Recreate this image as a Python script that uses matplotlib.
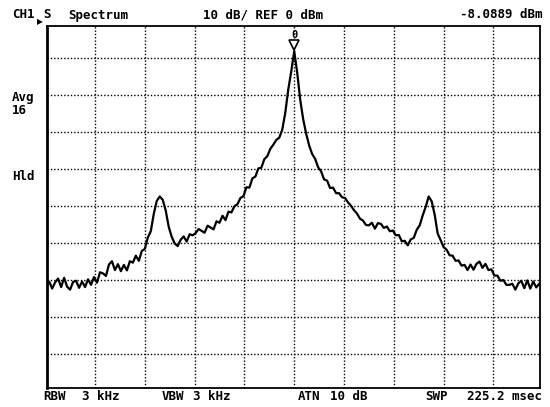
#!/usr/bin/env python3
"""Spectrum analyzer screen: averaged spectrum with a center carrier and two sidebands."""

import matplotlib

matplotlib.use("Agg")
import matplotlib.pyplot as plt
import numpy as np
from matplotlib.transforms import ScaledTranslation

# sweep position in graticule divisions (0..10), 166 points
freq_div = 0.02 + 0.06 * np.arange(166)

# trace level in dBm (REF 0 dBm, 10 dB/div)
level_dbm = [
    -71.5, -70.4, -72.3, -70.6, -69.6, -71.9, -69.4, -71.8, -72.6, -70.5,
    -70.2, -72.1, -70.4, -71.9, -69.8, -71.3, -69.2, -70.7, -67.9, -68.2,
    -68.9, -65.8, -64.9, -67.3, -65.7, -67.6, -65.9, -67.4, -64.9, -65.3,
    -63.4, -64.8, -62.1, -61.6, -58.5, -56.8, -52.1, -48.6, -47.4, -48.3,
    -51.2, -55.6, -58.3, -60.1, -60.8, -59.1, -58.2, -59.6, -57.6, -57.9,
    -57.3, -56.2, -56.7, -57.2, -55.3, -55.8, -56.3, -54.1, -54.5, -52.6,
    -53.8, -51.5, -51.7, -50.0, -49.5, -47.8, -47.3, -44.9, -45.0, -42.5,
    -42.0, -39.8, -39.6, -37.3, -36.5, -34.5, -33.4, -32.1, -31.5, -29.3,
    -24.8, -18.5, -13.6, -8.1, -13.9, -21.2, -26.5, -30.4, -33.6, -35.9,
    -37.2, -39.5, -40.6, -42.8, -43.1, -45.1, -45.0, -46.5, -46.5, -47.6,
    -47.8, -49.0, -49.9, -51.1, -52.0, -53.4, -53.9, -55.1, -55.2, -54.5,
    -56.1, -54.6, -54.8, -55.9, -55.5, -56.8, -56.6, -57.9, -57.8, -59.5,
    -59.4, -60.6, -59.0, -58.6, -56.4, -55.2, -52.5, -50.2, -47.4, -48.7,
    -52.3, -57.4, -59.2, -61.1, -61.8, -63.3, -63.4, -64.8, -64.7, -66.1,
    -65.9, -67.3, -65.8, -67.2, -65.6, -65.0, -66.7, -65.6, -67.3, -67.1,
    -68.8, -68.8, -70.2, -70.0, -71.3, -71.3, -71.0, -72.6, -70.9, -70.2,
    -72.2, -70.1, -72.3, -70.4, -72.0, -71.0,
]

top_labels = [("CH1", 12), ("S", 43), ("Spectrum", 68), ("10 dB/ REF 0 dBm", 203)]
marker_readout = "-8.0889 dBm"
bottom_labels = [("RBW", 43), ("3 kHz", 82), ("VBW", 162), ("3 kHz", 193),
                 ("ATN", 298), ("10 dB", 330), ("SWP", 425)]
sweep_time = "225.2 msec"
side_labels = [("Avg", 98), ("16", 111), ("Hld", 177)]

W, H = 550, 407
FONT = dict(family="DejaVu Sans Mono", fontweight="bold", fontsize=9, color="black")


def px(x, y):
    return x / W, 1 - y / H


def main():
    fig = plt.figure(figsize=(W / 100, H / 100), dpi=100)
    fig.patch.set_facecolor("white")
    ax = fig.add_axes([46.7 / W, 1 - 388 / H, (540 - 46.7) / W, (388 - 25.7) / H])

    ax.plot(freq_div, level_dbm, color="black", lw=1.6, solid_joinstyle="round")

    ax.set_xlim(0.03, 9.935)
    ax.set_ylim(-99.2, -1.2)
    ax.set_xticks(np.arange(1, 10))
    ax.set_yticks(np.arange(-90, 0, 10))
    ax.tick_params(length=0, labelbottom=False, labelleft=False)
    ax.grid(True, color="black", lw=1.0, linestyle=(0, (1, 1.4)))
    for side, sp in ax.spines.items():
        sp.set_linewidth(2.0 if side == "left" else 1.3)

    # marker 0 at the carrier peak
    pk = int(np.argmax(level_dbm))
    lift = ScaledTranslation(0, 4.5 / 72, fig.dpi_scale_trans)
    ax.plot(freq_div[pk], level_dbm[pk], marker="v", ms=6.5, mfc="white", mec="black",
            mew=1.2, transform=ax.transData + lift, clip_on=False)
    ax.annotate("0", (freq_div[pk], level_dbm[pk]), xytext=(0, 12), textcoords="offset points",
                ha="center", va="center", **{**FONT, "fontsize": 7.5})

    for text, x in top_labels:
        fig.text(*px(x, 15), text, ha="left", va="center", **FONT)
    fig.text(*px(542, 15), marker_readout, ha="right", va="center", **FONT)
    fig.text(*px(36.5, 22), "\u25b6", ha="left", va="center", fontsize=5.5, color="black")

    for text, x in bottom_labels:
        fig.text(*px(x, 396), text, ha="left", va="center", **FONT)
    fig.text(*px(542, 396), sweep_time, ha="right", va="center", **FONT)

    for text, y in side_labels:
        fig.text(*px(12, y), text, ha="left", va="center", **FONT)

    fig.savefig("out.png", dpi=100, facecolor="white")
    plt.close(fig)


if __name__ == "__main__":
    main()
